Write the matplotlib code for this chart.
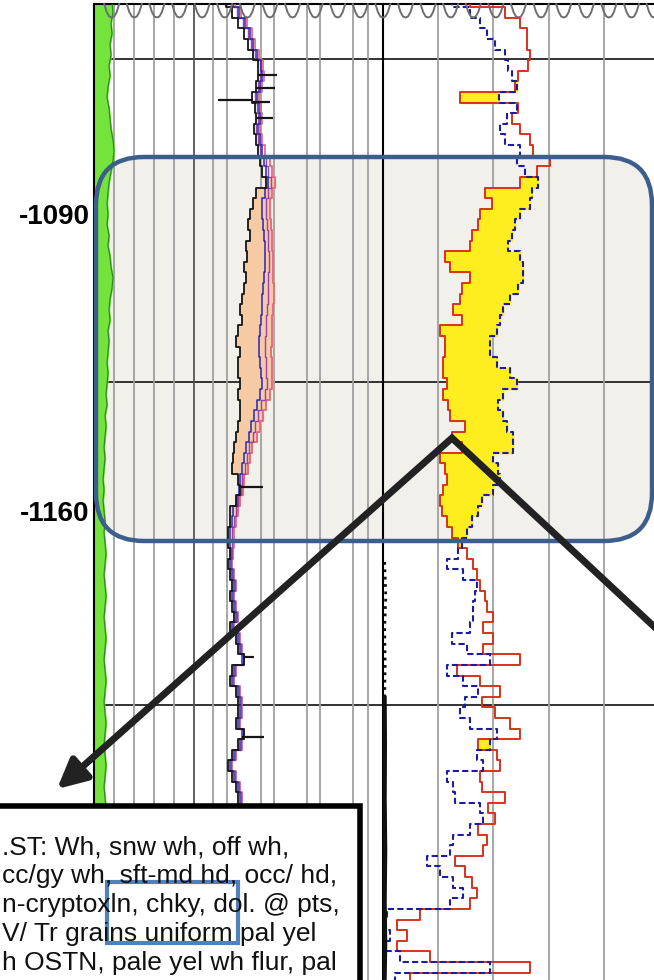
import numpy as np
import matplotlib.pyplot as plt
from matplotlib.patches import FancyBboxPatch, Rectangle

plt.rcParams['font.family'] = ['Liberation Sans', 'DejaVu Sans']

# depth samples, every 2.5 m
depth = np.arange(1040.0, 1270.1, 2.5)

# track 1 curves
gr = [9, 9.5, 8.5, 9, 8, 8.5, 7.5, 8, 7, 6.5, 7.5, 8, 8.5, 9.5, 10, 9.5, 8.5, 7.5, 7, 6.5,
      7, 6.5, 7.5, 7, 8, 8.5, 9.5, 9, 8, 7.5, 8, 7, 7.5, 7, 6.5, 7, 6.5, 6, 6.5, 5.5,
      6, 5.5, 5, 5.5, 5, 4.5, 5, 4.5, 5, 5.5, 5, 5.5, 6, 5.5, 5, 5.5, 6, 5.5, 5, 5.5,
      6, 5.5, 5, 5.5, 6, 5.5, 5, 5.5, 6, 5.5, 5, 5.5, 6, 5.5, 5, 5.5, 6]
res_deep = [66, 69, 72, 75, 77, 79.5, 82, 82, 81, 79, 80.5, 81, 80, 81, 82, 83, 84, 86, 81, 79.5,
            78, 77, 78, 76, 76.5, 75, 76, 75, 74, 73, 74, 72, 71, 73, 72, 72, 73, 72, 73, 73,
            72, 71, 70, 69.5, 69, 72, 73, 71, 68, 68, 67, 67, 68, 67, 68, 69, 68, 69, 70, 68,
            71, 72, 75, 69, 68, 71, 72, 72, 71, 75, 72, 69, 67, 69, 71, 72, 72]
res_med = [69.5, 72.5, 75.5, 78, 79.5, 81.5, 83.5, 84, 83, 81.5, 82.5, 83, 82, 83, 84, 85, 86, 87, 85.5, 84,
           84, 84.5, 85, 85.5, 85.5, 85.5, 85, 84.5, 84, 84, 83.5, 83, 82.5, 82.5, 83, 83.5, 84, 83, 81.5, 80,
           78.5, 77.5, 76, 75, 74, 73, 72.5, 71.5, 69.5, 69, 68, 68, 68.5, 68, 69, 70, 69, 70, 71, 69,
           72, 73, 74, 70, 69, 72, 73, 73, 72, 74, 73, 70, 68, 70, 72, 73, 73]
res_mid = [68.5, 71.5, 74.5, 77, 78.5, 80.5, 83, 83, 82, 80.5, 81.5, 82, 81, 82, 83, 86, 87, 88.5, 87, 86,
           86, 86.5, 87, 87, 87.5, 87.5, 87, 87, 87, 86.5, 86, 86, 85.5, 85.5, 86, 86, 86.5, 85.5, 83.5, 82,
           80.5, 79.5, 77.5, 76.5, 75.5, 74, 73.5, 72, 71, 70, 69, 69, 69, 68.5, 69.5, 70.5, 69.5, 70.5, 71.5, 69.5,
           72.5, 73.5, 74.5, 70.5, 69.5, 72.5, 73.5, 73.5, 72.5, 74.5, 73.5, 70.5, 68.5, 70.5, 72.5, 73.5, 73.5]
res_shallow = [70.5, 73.5, 76.5, 79, 80.5, 82.5, 84.5, 85, 84, 82.5, 83.5, 84, 83, 84, 85.5, 88, 89, 90.5, 89, 88,
               88, 88.5, 89, 89, 89.5, 89.5, 89.5, 90, 90, 89.5, 89, 89, 89, 88.5, 89, 89, 89, 88, 86, 84.5,
               83, 81.5, 79, 78, 77, 75, 74.5, 73, 72, 71, 70, 70, 69.5, 69, 70, 71, 70, 71, 72, 70,
               73, 74, 75, 71, 70, 73, 74, 74, 73, 75, 74, 71, 69, 71, 73, 74, 74]
# spikes on the deep curve: depth, value
spike_depth = [1057.2, 1060.3, 1063.1, 1063.6, 1067.4, 1154.3, 1194.4, 1213.3]
spike_val = [91.5, 90.5, 62, 88, 89.5, 84.5, 80, 85]

# track 2 curves
nphi = [15.8, 22.1, 24.8, 26.1, 26.1, 26.6, 26.3, 24.5, 24.0, 13.9, 24.5, 23.4, 24.8, 26.6, 27.2, 30.3, 27.9, 24.8, 18.5, 19.7,
        17.6, 17.2, 16.1, 15.8, 11.2, 12.1, 15.8, 14.3, 13.9, 12.7, 14.3, 10.3, 11.2, 11.2, 10.9, 10.9, 11.6, 10.9, 11.8, 12.1,
        14.9, 12.5, 14.3, 10.3, 11.2, 11.6, 10.9, 10.3, 10.7, 11.6, 12.5, 13.6, 15.2, 16.3, 17.0, 17.6, 18.5, 18.8, 19.9, 18.1,
        19.9, 18.1, 24.8, 13.4, 17.6, 21.2, 17.9, 20.3, 23.0, 24.8, 17.2, 20.7, 21.2, 17.6, 17.9, 22.1, 19.0, 20.3, 17.2, 18.8,
        18.1, 13.0, 14.9, 16.1, 17.0, 15.8, 6.7, 2.5, 4.3, 2.5, 8.5, 26.6, 4.9]
dphi = [12.5, 15.8, 17.6, 18.8, 20.3, 22.1, 22.6, 23.4, 24.3, 21.0, 24.3, 22.5, 21.2, 22.1, 24.8, 24.3, 25.7, 28.1, 27.0, 26.6,
        24.8, 23.9, 23.4, 22.6, 24.8, 25.4, 25.4, 24.5, 23.0, 21.7, 21.2, 20.7, 19.4, 19.4, 20.7, 23.0, 24.3, 21.7, 20.8, 21.7,
        22.5, 23.6, 23.6, 19.9, 20.8, 21.2, 19.9, 17.9, 17.2, 16.1, 15.2, 14.3, 13.6, 11.6, 14.5, 17.0, 16.7, 16.3, 16.3, 15.8,
        12.5, 15.2, 19.4, 11.6, 14.5, 17.2, 14.9, 13.9, 15.8, 20.7, 19.4, 17.0, 18.1, 11.6, 12.7, 13.0, 17.6, 18.1, 15.8, 12.7,
        12.1, 8.0, 10.3, 12.7, 14.5, 12.1, 0.7, 0.0, 1.3, 0.4, 3.1, 19.4, 2.2]
peg_depth = [1172, 1180, 1188, 1196, 1204, 1215, 1228, 1240, 1252, 1262, 1270]
peg_val = [0.3, 0.5, 0.3, 0.4, 0.3, 0.35, 0.3, 0.4, 0.3, 0.4, 0.3]

desc_lines = [".ST: Wh, snw wh, off wh,",
              "cc/gy wh, sft-md hd, occ/ hd,",
              "n-cryptoxln, chky, dol. @ pts,",
              "V/ Tr grains uniform pal yel",
              "h OSTN, pale yel wh flur, pal"]

W, H = 654, 980
HALF = 1.25  # half sample interval


def box(x0, y0, x1, y1):
    return [x0 / W, 1 - y1 / H, (x1 - x0) / W, (y1 - y0) / H]


def blocky(vals):
    # hold each reading over its depth interval, like a log plot
    n = len(vals)
    d = depth[:n]
    return np.repeat(np.asarray(vals, float), 2), np.column_stack([d - HALF, d + HALF]).ravel()


fig = plt.figure(figsize=(6.54, 9.8), dpi=100)

# background layer (shaded interval)
ax_bg = fig.add_axes([0, 0, 1, 1])
ax_bg.set_xlim(0, W)
ax_bg.set_ylim(H, 0)
ax_bg.axis('off')
ax_bg.add_patch(FancyBboxPatch((96, 157), 556, 384, boxstyle='round,pad=0,rounding_size=48',
                               facecolor='#f1f0eb', edgecolor='none'))

ax1 = fig.add_axes(box(94, 4, 383, 980))
ax2 = fig.add_axes(box(383, 4, 659, 980))
for ax in (ax1, ax2):
    ax.set_facecolor('none')
    ax.set_ylim(1270.5, 1040.5)
    ax.set_xticks([])
    for s in ('bottom', 'right'):
        ax.spines[s].set_visible(False)
    ax.spines['top'].set_linewidth(1.5)
    ax.spines['left'].set_linewidth(1.5)
    for d in (1053.5, 1129.6, 1205.7):
        ax.axhline(d, color='#222222', lw=1.3, zorder=1)
ax1.set_xlim(0, 144.5)
ax2.set_xlim(0, 50)
ax2.set_yticks([])

for gx in (10, 20, 30, 40, 59.5, 66.5, 83.5, 90, 106.5, 113, 129.5, 137):
    ax1.axvline(gx, color='#a0a0a0', lw=1.3, zorder=1)
ax1.axvline(50, color='#555555', lw=1.3, zorder=1)
for gx in (10, 20, 30, 40):
    ax2.axvline(gx, color='#a0a0a0', lw=1.3, zorder=1)

ax1.set_yticks([1090, 1160])
ax1.set_yticklabels(['-1090', '-1160'], fontsize=20, fontweight='bold')
ax1.tick_params(axis='y', length=0, pad=3)

# track 1
d1 = depth[:len(gr)]
ax1.fill_betweenx(d1, 0, gr, color='#74e43c', zorder=2)
ax1.plot(gr, d1, color='#2f8a25', lw=0.9, zorder=3)

vd, dd = blocky(res_deep)
vs, ds = blocky(res_shallow)
zone = (dd > 1080) & (dd < 1163)
ax1.fill_betweenx(dd, vd, vs, where=zone, color='#f6cba3', zorder=2)
for vals, col, lw in ((res_shallow, '#e0607a', 1.2), (res_mid, '#9a40b0', 1.0),
                      (res_med, '#2626b8', 1.1), (res_deep, '#151515', 1.3)):
    v, d = blocky(vals)
    ax1.plot(v, d, color=col, lw=lw, zorder=3)
base = np.interp(spike_depth, depth[:len(res_deep)], res_deep)
ax1.hlines(spike_depth, base, spike_val, color='#151515', lw=1.6, zorder=4)

# track 2
vn, dn = blocky(nphi)
vp, dp = blocky(dphi)
ax2.fill_betweenx(dn, vn, vp, where=vn < vp, color='#ffee1f', zorder=2)
ax2.plot(vn, dn, color='#d8321c', lw=1.4, zorder=3)
ax2.plot(vp, dp, color='#1c1ca0', lw=1.5, ls=(0, (3, 1.5)), zorder=4)
ax2.plot(peg_val[:5], peg_depth[:5], color='#111111', lw=2, ls=':', zorder=4)
ax2.plot(peg_val[4:], peg_depth[4:], color='#111111', lw=3, zorder=4)

# overlay layer
ax_top = fig.add_axes([0, 0, 1, 1])
ax_top.set_facecolor('none')
ax_top.set_xlim(0, W)
ax_top.set_ylim(H, 0)
ax_top.axis('off')

for cx in np.arange(111.7, 660, 22.6):
    ax_top.plot([cx - 7.5, cx - 5, cx - 2.5, cx, cx + 2.5, cx + 5, cx + 7.5],
                [4, 12, 16.5, 17.5, 16.5, 12, 4], color='#6e6e6e', lw=1.4)

ax_top.add_patch(FancyBboxPatch((96, 157), 556, 384, boxstyle='round,pad=0,rounding_size=48',
                                facecolor='none', edgecolor='#3b5e8c', lw=3.2))

ax_top.plot([72, 452, 662], [776, 438, 634], color='#222222', lw=5, solid_joinstyle='miter')
ax_top.annotate('', xy=(57, 789), xytext=(80, 769),
                arrowprops=dict(arrowstyle='-|>,head_length=0.5,head_width=0.25',
                                color='#222222', lw=5, mutation_scale=35, shrinkA=0, shrinkB=0))

ax_top.add_patch(Rectangle((-10, 806), 370, 190, facecolor='white', edgecolor='black', lw=4))
for i, line in enumerate(desc_lines):
    ax_top.text(2, 847 + i * 29, line, fontsize=19, va='center', ha='left', color='#111111')
ax_top.add_patch(Rectangle((107, 882), 131, 61, facecolor='none', edgecolor='#4f81bd', lw=3))

fig.savefig('out.png', dpi=100)
